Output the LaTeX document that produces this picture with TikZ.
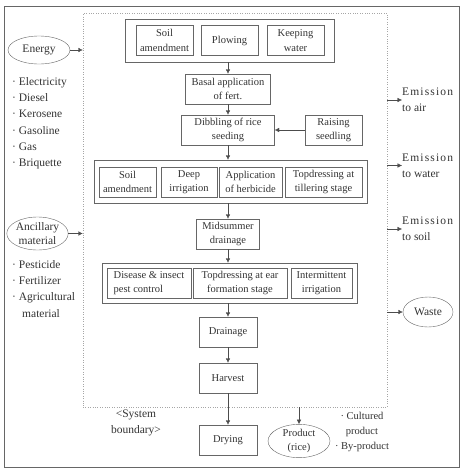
\documentclass[tikz,border=0pt]{standalone}
\usepackage{fontspec}
\setmainfont{Liberation Serif}
\usetikzlibrary{shapes.geometric, arrows.meta}

\tikzset{
  box/.style={draw=black!60, text=black!80, align=center, inner sep=1pt, minimum height=30, font=\fontsize{10.5}{14.5}\selectfont},
  grp/.style={draw=black!60, inner sep=0pt},
  oval/.style={draw=black!60, ellipse, inner sep=0pt, align=center, text=black!80, font=\fontsize{11.5}{14}\selectfont},
  flow/.style={draw=black!70, -{Latex[length=4.5pt,width=4.5pt]}},
  note/.style={text=black!80, align=left, inner sep=0pt, font=\fontsize{11.5}{16.3}\selectfont},
}

\begin{document}
\begin{tikzpicture}[x=1pt,y=-1pt]
\useasboundingbox (0,0) rectangle (463,469);

% Outer frame
\draw[black!60, line width=0.8pt] (4,6) rectangle (459,467);

% System boundary
\node[draw=black!35, dotted, inner sep=0pt, minimum width=304, minimum height=394] (sys) at (235,210) {};
\node[note, align=center] (sysl) at (136,423) {<System\\boundary>};

% Inputs
\node[oval, minimum width=62, minimum height=28] (energy) at (39,50) {Energy};
\node[note, anchor=north west] (elist) at (12,77) {· Electricity\\· Diesel\\· Kerosene\\· Gasoline\\· Gas\\· Briquette};
\node[oval, minimum width=61, minimum height=33] (anc) at (37.5,233.5) {Ancillary\\material};
\node[note, anchor=north west] (alist) at (12,260) {· Pesticide\\· Fertilizer\\· Agricultural\\\hspace{10pt}material};

% Tillage
\node[grp, minimum width=209, minimum height=43] (g1) at (229.5,40.5) {};
\node[box, minimum width=57] (soil1) at (164.5,40.5) {Soil\\amendment};
\node[box, minimum width=57] (plow) at (229.5,40.5) {Plowing};
\node[box, minimum width=57] (keep) at (295.5,40.5) {Keeping\\water};

% Seeding
\node[box, minimum width=85] (basal) at (228,89) {Basal application\\of fert.};
\node[box, minimum width=93] (dib) at (228,130) {Dibbling of rice\\seeding};
\node[box, minimum width=57] (raise) at (333.5,130) {Raising\\seedling};

% Tillering stage
\node[grp, minimum width=273, minimum height=43] (g2) at (230.5,181.5) {};
\node[box, minimum width=57] (soil2) at (127.5,182) {Soil\\amendment};
\node[box, minimum width=56] (deep) at (189,182) {Deep\\irrigation};
\node[box, minimum width=63] (herb) at (250.5,182) {Application\\of herbicide};
\node[box, minimum width=77] (till) at (323.5,182) {Topdressing at\\tillering stage};

\node[box, minimum width=63] (mid) at (228,234) {Midsummer\\drainage};

% Ear formation stage
\node[grp, minimum width=255, minimum height=40] (g3) at (229.5,283) {};
\node[box, minimum width=84, align=left] (pest) at (149,283) {Disease \& insect\\pest control};
\node[box, minimum width=94] (ear) at (240,283) {Topdressing at ear\\formation stage};
\node[box, minimum width=61] (inter) at (321.5,283) {Intermittent\\irrigation};

% Harvest
\node[box, minimum width=58] (drain) at (228,332) {Drainage};
\node[box, minimum width=58] (harv) at (228,378) {Harvest};
\node[box, minimum width=58] (dry) at (228,440) {Drying};
\node[oval, minimum width=62, minimum height=28, font=\fontsize{10.5}{14}\selectfont] (prod) at (299,441) {Product\\(rice)};
\node[note, align=center, font=\fontsize{10.5}{15}\selectfont] (plist) at (362,432) {· Cultured\\product\\· By-product};

% Outputs
\node[note, anchor=west, font=\fontsize{11.5}{16}\selectfont] (air) at (402,100) {{\addfontfeature{LetterSpace=10}Emission}\\to air};
\node[note, anchor=west, font=\fontsize{11.5}{16}\selectfont] (water) at (402,165.5) {{\addfontfeature{LetterSpace=10}Emission}\\to water};
\node[note, anchor=west, font=\fontsize{11.5}{16}\selectfont] (soil) at (402,229) {{\addfontfeature{LetterSpace=10}Emission}\\to soil};
\node[oval, minimum width=50, minimum height=30] (waste) at (428,312) {Waste};

% Arrows
\draw[flow] (energy.east) -- (energy.east -| sys.west);
\draw[flow] (anc.east) -- (anc.east -| sys.west);
\draw[flow] (basal.north |- g1.south) -- (basal.north);
\draw[flow] (basal.south) -- (dib.north);
\draw[flow] (raise.west) -- (dib.east);
\draw[flow] (dib.south) -- (dib.south |- g2.north);
\draw[flow] (mid.north |- g2.south) -- (mid.north);
\draw[flow] (mid.south) -- (mid.south |- g3.north);
\draw[flow] (drain.north |- g3.south) -- (drain.north);
\draw[flow] (drain.south) -- (harv.north);
\draw[flow] (harv.south) -- (dry.north);
\draw[flow] (prod.north |- sys.south) -- (prod.north);
\draw[flow] (air.west -| sys.east) -- (air.west);
\draw[flow] (water.west -| sys.east) -- (water.west);
\draw[flow] (soil.west -| sys.east) -- (soil.west);
\draw[flow] (waste.west -| sys.east) -- (waste.west);

\end{tikzpicture}
\end{document}
